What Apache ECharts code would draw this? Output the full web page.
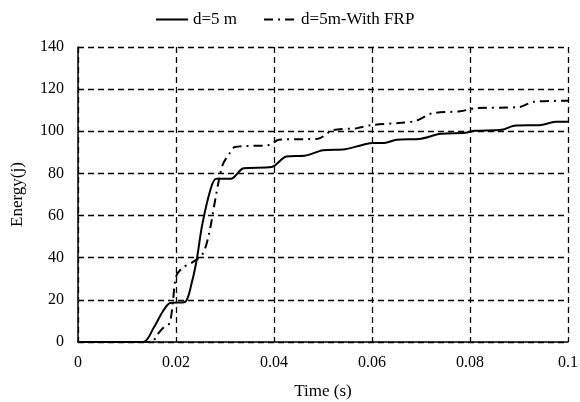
<!DOCTYPE html>
<html>
<head>
<meta charset="utf-8">
<script src="https://cdn.jsdelivr.net/npm/echarts@6/dist/echarts.min.js"></script>
<style>
  html, body { margin: 0; padding: 0; background: #fff; }
  #grafico { width: 580px; height: 402px; }
</style>
</head>
<body>
<div id="grafico"></div>
<script>
// d=5 m
var tiempoD5 = [0, 0.0133, 0.0155, 0.0173, 0.0188, 0.0218, 0.0232, 0.0243, 0.0253, 0.027, 0.0282, 0.0312, 0.0338, 0.0395, 0.0425, 0.0465, 0.0500, 0.0545, 0.0580, 0.0602, 0.0625, 0.0650, 0.0700, 0.0740, 0.0790, 0.0810, 0.0865, 0.0890, 0.0945, 0.0975, 0.1];
var energiaD5 = [0, 0, 7, 14.5, 18.5, 19, 28, 40, 55, 72, 77.5, 77.5, 82.5, 83, 88, 88.5, 91, 91.5, 93.5, 94.5, 94.5, 96, 96.5, 98.8, 99.3, 100.2, 100.7, 102.6, 103, 104.5, 104.5];

// d=5m-With FRP
var tiempoFRP = [0, 0.0150, 0.0162, 0.0175, 0.0187, 0.0194, 0.0200, 0.0212, 0.0235, 0.0255, 0.0268, 0.0282, 0.0295, 0.0308, 0.0320, 0.0390, 0.0410, 0.0490, 0.0520, 0.0570, 0.0600, 0.0660, 0.0690, 0.0722, 0.0780, 0.0812, 0.0900, 0.0930, 0.1];
var energiaFRP = [0, 0, 3.5, 7, 9, 20, 31, 35, 38, 42, 52, 70, 84, 89, 92.5, 93.5, 96, 96.5, 100.5, 101.5, 103, 104, 105, 108.5, 109.5, 111, 111.5, 114, 114.5];

var nombres = ["d=5 m", "d=5m-With FRP"];
var fuente = "Liberation Serif";

function pares(xs, ys){
    var retornar = [];
    xs.forEach(function(x, i){
        retornar.push([x, ys[i]]);
    });
    return retornar;
}

var dom = document.getElementById("grafico");
var myChart = echarts.init(dom);
var gridLinea = { show: true, lineStyle: { color: "#000", type: [6, 4], width: 1.3 } };

var option = {
    animation: false,
    textStyle: { fontFamily: fuente, color: "#000" },
    legend: {
        top: 6,
        left: 150,
        itemWidth: 32,
        itemHeight: 10,
        itemGap: 26,
        itemStyle: { opacity: 0 },
        textStyle: { fontFamily: fuente, fontSize: 17, color: "#000" },
        data: nombres
    },
    grid: { left: 78, right: 12, top: 47, bottom: 60, outerBoundsMode: "none" },
    xAxis: {
        type: "value",
        min: 0,
        max: 0.1,
        interval: 0.02,
        name: "Time (s)",
        nameLocation: "middle",
        nameGap: 41,
        nameTextStyle: { fontFamily: fuente, fontSize: 17, color: "#000" },
        axisLine: { lineStyle: { color: "#000", width: 1.5 } },
        axisTick: { show: false },
        axisLabel: { fontFamily: fuente, fontSize: 16, color: "#000", margin: 13,
            formatter: function(v){ return v === 0 ? "0" : String(+v.toFixed(2)); } },
        splitLine: gridLinea
    },
    yAxis: {
        type: "value",
        min: 0,
        max: 140,
        interval: 20,
        name: "Energy(j)",
        nameLocation: "middle",
        nameGap: 52,
        nameTextStyle: { fontFamily: fuente, fontSize: 17, color: "#000" },
        axisLine: { show: true, lineStyle: { color: "#000", width: 1.5 } },
        axisTick: { show: false },
        axisLabel: { fontFamily: fuente, fontSize: 16, color: "#000", margin: 14 },
        splitLine: gridLinea
    },
    series: [
        {
            name: nombres[0],
            type: "line",
            symbol: "none",
            smooth: 0.3,
            data: pares(tiempoD5, energiaD5),
            lineStyle: { color: "#000", width: 2 },
            itemStyle: { color: "#000" },
            z: 3
        },
        {
            name: nombres[1],
            type: "line",
            symbol: "none",
            smooth: 0.3,
            data: pares(tiempoFRP, energiaFRP),
            lineStyle: { color: "#000", width: 2, type: [9, 5, 2, 5] },
            itemStyle: { color: "#000" },
            z: 3
        }
    ]
};
myChart.setOption(option, true);
</script>
</body>
</html>
